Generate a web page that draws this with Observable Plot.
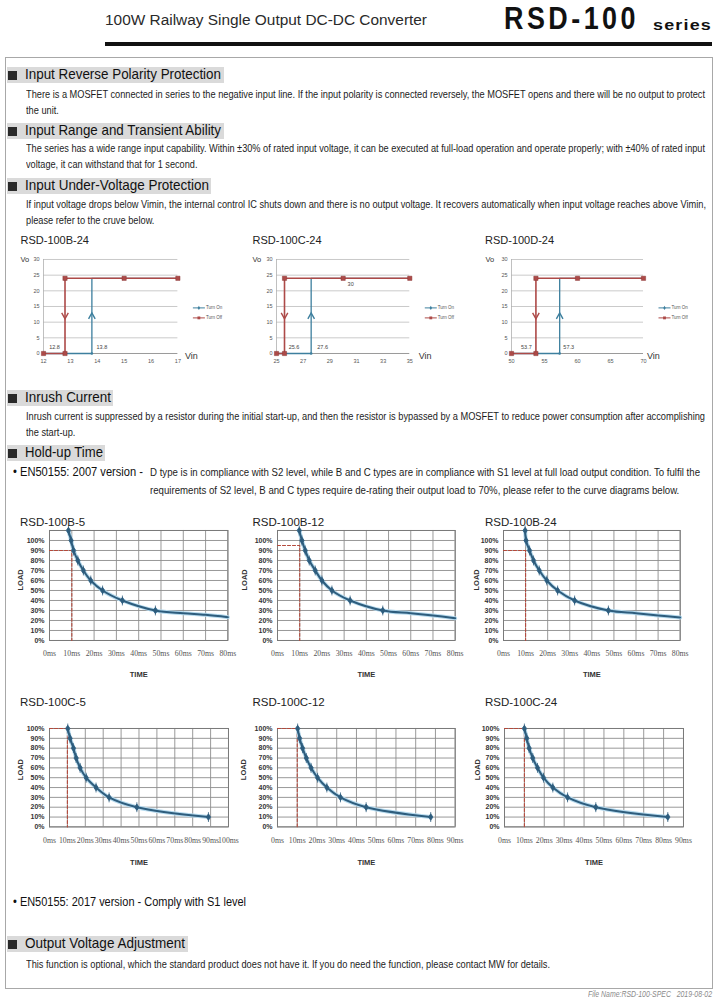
<!DOCTYPE html>
<html><head><meta charset="utf-8">
<script src="https://cdn.jsdelivr.net/npm/d3@7"></script>
<script src="https://cdn.jsdelivr.net/npm/@observablehq/plot@0.6"></script>
<style>
body{margin:0;background:#fff;}
#page{position:relative;width:715px;height:1000px;overflow:hidden;background:#fff;font-family:"Liberation Sans Narrow","Liberation Sans",Arial,sans-serif;color:#1c1c1c;}
.t{position:absolute;white-space:nowrap;line-height:1;transform-origin:0 50%;}
.box{position:absolute;}
.chart{position:absolute;}
.chart svg{overflow:visible;}
</style></head><body><div id="page"></div>
<script>
// ================= DATA =================
// Input under-voltage protection curves
const uvpTitles = ["RSD-100B-24", "RSD-100C-24", "RSD-100D-24"];
const uvpXTicks = [[12, 13, 14, 15, 16, 17], [25, 27, 29, 31, 33, 35], [50, 55, 60, 65, 70]];
const uvpYTicks = [0, 5, 10, 15, 20, 25, 30];
const turnOffVin = [[17, 15, 12.8, 12.8, 12], [35, 30, 25.6, 25.6, 25], [70, 60, 53.7, 53.7, 50]];
const turnOffVo = [24, 24, 24, 0, 0];
const turnOnVin = [[12, 13.8, 13.8, 17], [25, 27.6, 27.6, 35], [50, 57.3, 57.3, 70]];
const turnOnVo = [0, 0, 24, 24];
const turnOffVmin = [12.8, 25.6, 53.7];
const turnOnVmin = [13.8, 27.6, 57.3];
const noteVin = [null, 30, null];
const noteText = ["", "30", ""];
const arrowVo = 12;
const legendNames = ["Turn On", "Turn Off"];

// Hold-up time curves
const holdTitles = ["RSD-100B-5", "RSD-100B-12", "RSD-100B-24", "RSD-100C-5", "RSD-100C-12", "RSD-100C-24"];
const holdXTicks = [
  [0, 10, 20, 30, 40, 50, 60, 70, 80],
  [0, 10, 20, 30, 40, 50, 60, 70, 80],
  [0, 10, 20, 30, 40, 50, 60, 70, 80],
  [0, 10, 20, 30, 40, 50, 60, 70, 80, 90, 100],
  [0, 10, 20, 30, 40, 50, 60, 70, 80, 90],
  [0, 10, 20, 30, 40, 50, 60, 70, 80, 90]
];
const holdYTicks = [0, 10, 20, 30, 40, 50, 60, 70, 80, 90, 100];
const holdYGridB = [0, 10, 20, 30, 40, 50, 60, 70, 80, 90, 100, 110];
const holdYMax = [110, 110, 110, 100, 100, 100];
const holdTime = [
  [8.5, 9.7, 10.8, 12.7, 15.2, 18.5, 23.8, 32.7, 47.5],
  [9.8, 11, 12.5, 14.3, 17, 20, 24.5, 32.7, 47.4],
  [9.8, 10.2, 11.8, 13.6, 16.2, 19.6, 24.5, 32.2, 47.5],
  [10.2, 11.5, 13.4, 14.9, 17.1, 20.5, 26, 33.3, 48.8, 88.8],
  [10.2, 11.2, 12.7, 14.6, 17, 20.3, 25, 31.9, 44.9, 77.6],
  [10, 11.2, 12.4, 14.2, 16.6, 19.6, 24.3, 31.7, 45.9, 82.1]
];
const holdLoadB = [110, 100, 90, 80, 70, 60, 50, 40, 30];
const holdLoadC = [100, 90, 80, 70, 60, 50, 40, 30, 20, 10];
const holdLoad = [holdLoadB, holdLoadB, holdLoadB, holdLoadC, holdLoadC, holdLoadC];
const tailTime = [[60, 70, 80], [60, 70, 80], [60, 70, 80], [], [], []];
const tailLoad = [[27.3, 25.7, 23.3], [27.3, 25, 22.3], [27.3, 25, 23], [], [], []];
const guideLoad = [90, 95, 90, 100, 100, 100];
const guideTime = [10, 10, 10, 10, 10, 10];

// ================= STYLE / LAYOUT =================
const RED = "#ad4a48", BLUE = "#3d7f9e", CURVE = "#2e5d7d", HALO = "#b6daee", GUIDE = "#b5493b";
const page = document.getElementById("page");

function box(css) {
  const d = document.createElement("div");
  d.className = "box";
  Object.assign(d.style, css);
  page.appendChild(d);
  return d;
}
function txt(s, x, cy, fs, o = {}) {
  const d = document.createElement("div");
  d.className = "t";
  d.textContent = s;
  d.style.left = x + "px";
  d.style.top = (cy - fs * 0.55) + "px";
  d.style.fontSize = fs + "px";
  if (o.bold) d.style.fontWeight = "bold";
  if (o.color) d.style.color = o.color;
  if (o.family) d.style.fontFamily = o.family;
  if (o.italic) d.style.fontStyle = "italic";
  if (o.ls) d.style.letterSpacing = o.ls + "px";
  page.appendChild(d);
  const w0 = d.getBoundingClientRect().width;
  let k = o.k || (o.w ? o.w / w0 : 1);
  d.style.transform = `scaleX(${k})`;
  if (o.right != null) d.style.left = (o.right - w0 * k) + "px";
  return k;
}
function heading(s, cy, bandRight, textRight) {
  box({left: "7px", top: (cy - 8) + "px", width: (bandRight - 7) + "px", height: "16px", background: "#dadada"});
  box({left: "8px", top: (cy - 4.5) + "px", width: "9px", height: "9px", background: "#2a2a2a"});
  txt(s, 25, cy, 14.5, {w: textRight - 25, color: "#111"});
}
function para(lines, x, cys, fullW, fs = 10.5) {
  const k = txt(lines[0], x, cys[0], fs, {w: fullW});
  for (let i = 1; i < lines.length; i++) txt(lines[i], x, cys[i], fs, {k});
}

// ---------- header ----------
txt("100W Railway Single Output DC-DC Converter", 105, 21, 15.5, {w: 322, color: "#2a2a2a"});
txt("RSD-100", 504, 20, 31, {bold: true, w: 135, ls: 4, color: "#111"});
txt("series", 653, 25, 15, {bold: true, w: 59, ls: 1, color: "#111"});
box({left: "105px", top: "42px", width: "607px", height: "4px", background: "#111"});
box({left: "5px", top: "57px", width: "706px", height: "930px", border: "1px solid #a8a8a8"});

// ---------- sections ----------
heading("Input Reverse Polarity Protection", 75, 224, 221);
para(["There is a MOSFET connected in series to the negative input line. If the input polarity is connected reversely, the MOSFET opens and there will be no output to protect",
      "the unit."], 26, [95, 111], 679);
heading("Input Range and Transient Ability", 131, 224, 221);
para(["The series has a wide range input capability. Within \u00b130% of rated input voltage, it can be executed at full-load operation and operate properly; with  \u00b140% of rated input",
      "voltage, it can withstand that for 1 second."], 26, [149, 165], 679);
heading("Input Under-Voltage Protection", 186, 211, 209);
para(["If input voltage drops below Vimin, the internal control IC shuts down and there is no output voltage. It recovers automatically when input voltage reaches above Vimin,",
      "please refer to the cruve below."], 26, [205, 221], 680);
heading("Inrush Current", 398, 113, 111);
para(["Inrush current is suppressed by a resistor during the initial start-up, and then the resistor is bypassed by a MOSFET to reduce power consumption after accomplishing",
      "the start-up."], 26, [417, 433], 679);
heading("Hold-up Time", 453, 105, 103);
txt("\u2022  EN50155: 2007 version -", 13, 473, 12, {w: 130, color: "#111"});
para(["D type is in compliance with S2 level, while B and C types are in compliance with S1 level at full load output condition. To fulfil the",
      "requirements of S2 level, B and C types require de-rating their output load to 70%, please refer to the curve diagrams below."], 150, [473, 491], 550);
txt("\u2022  EN50155: 2017 version - Comply with S1 level", 13, 903, 12, {w: 233, color: "#111"});
heading("Output Voltage Adjustment", 944, 188, 185);
para(["This function is optional, which the standard product does not have it. If you do need the function, please contact MW for details."], 26, [965], 524);
txt("File Name:RSD-100-SPEC\u00a0\u00a0\u00a02019-08-02", 0, 995, 8.5, {italic: true, color: "#8a8a8a", w: 124, right: 712});

// ---------- symbols ----------
const chevDown = {draw(c, size) { const r = Math.sqrt(size / Math.PI); c.moveTo(-r, -r * 0.9); c.lineTo(0, r * 0.9); c.lineTo(r, -r * 0.9); }};
const chevUp = {draw(c, size) { const r = Math.sqrt(size / Math.PI); c.moveTo(-r, r * 0.9); c.lineTo(0, -r * 0.9); c.lineTo(r, r * 0.9); }};
const legLine = {draw(c) { c.moveTo(-6, 0); c.lineTo(6, 0); }};
const diamondTick = {draw(c, size) {
  const r = Math.sqrt(size / Math.PI);
  c.moveTo(0, -r * 1.25); c.lineTo(r * 0.85, 0); c.lineTo(0, r * 1.25); c.lineTo(-r * 0.85, 0); c.closePath();
  c.moveTo(0, -r * 1.9); c.lineTo(0, r * 1.9);
}};

function place(svg, left, top) {
  const d = document.createElement("div");
  d.className = "chart";
  d.style.left = left + "px";
  d.style.top = top + "px";
  d.appendChild(svg);
  page.appendChild(d);
}

// ---------- UVP charts ----------
const uvpFrames = [[43.3, 177.7], [276, 409.3], [510.7, 642.7]];
const uvpTitleX = [20.5, 252.5, 485];
const uvpY = [259.3, 353.3];
const uvpLab = [
  {off: -10.5, on: 10, vo: -23, vin: 7},
  {off: 9.5, on: 11.5, vo: -24, vin: 9},
  {off: -9.5, on: 9, vo: -26, vin: 3.5}
];
for (let i = 0; i < 3; i++) {
  const [x0, x1] = uvpFrames[i];
  const mL = 30, mR = 62, mT = 12, mB = 18;
  const off = turnOffVin[i].map((v, j) => ({vin: v, vo: turnOffVo[j]}));
  const on = turnOnVin[i].map((v, j) => ({vin: v, vo: turnOnVo[j]}));
  const xd = [uvpXTicks[i][0], uvpXTicks[i][uvpXTicks[i].length - 1]];
  const lab = uvpLab[i];
  const marks = [
    Plot.gridY(uvpYTicks.slice(1), {stroke: "#c4c4c4", strokeOpacity: 1, strokeWidth: 0.9}),
    Plot.ruleY([0], {stroke: "#9a9a9a", strokeWidth: 1}),
    Plot.ruleX([xd[0]], {stroke: "#b0b0b0", strokeWidth: 0.8}),
    Plot.axisX(uvpXTicks[i], {tickSize: 0, tickPadding: 6, fontSize: 5.5, fill: "#555", label: null}),
    Plot.axisY(uvpYTicks, {tickSize: 0, tickPadding: 4, fontSize: 5.5, fill: "#555", label: null}),
    Plot.line(on, {x: "vin", y: "vo", stroke: BLUE, strokeWidth: 1.3}),
    Plot.line(off, {x: "vin", y: "vo", stroke: RED, strokeWidth: 1.6}),
    Plot.dot(off, {x: "vin", y: "vo", symbol: "square", r: 2.4, fill: RED, stroke: "#8a3634", strokeWidth: 0.5}),
    Plot.dot([{vin: turnOnVmin[i], vo: 0}], {x: "vin", y: "vo", r: 1.3, fill: BLUE}),
    Plot.dot([{vin: turnOffVmin[i], vo: arrowVo}], {x: "vin", y: "vo", symbol: chevDown, r: 3.3, stroke: RED, strokeWidth: 1.4, fill: "none"}),
    Plot.dot([{vin: turnOnVmin[i], vo: arrowVo}], {x: "vin", y: "vo", symbol: chevUp, r: 3.3, stroke: BLUE, strokeWidth: 1.4, fill: "none"}),
    Plot.text([{vin: turnOffVmin[i], vo: 0, t: String(turnOffVmin[i])}], {x: "vin", y: "vo", text: "t", dx: lab.off, dy: -6, fontSize: 5.5, fill: "#444"}),
    Plot.text([{vin: turnOnVmin[i], vo: 0, t: String(turnOnVmin[i])}], {x: "vin", y: "vo", text: "t", dx: lab.on, dy: -6, fontSize: 5.5, fill: "#444"}),
    Plot.text(["Vo"], {frameAnchor: "top-left", dx: lab.vo, textAnchor: "start", lineAnchor: "middle", fontSize: 7.5, fill: "#333"}),
    Plot.text(["Vin"], {frameAnchor: "bottom-right", dx: lab.vin, dy: 2.5, textAnchor: "start", lineAnchor: "middle", fontSize: 9, fill: "#333"}),
    // legend
    Plot.dot([0], {frameAnchor: "right", dx: 21, dy: 1.4, symbol: legLine, stroke: BLUE, strokeWidth: 1}),
    Plot.dot([0], {frameAnchor: "right", dx: 21, dy: 1.4, symbol: "diamond", r: 1.3, fill: BLUE}),
    Plot.text([legendNames[0]], {frameAnchor: "right", dx: 28, dy: 1.4, textAnchor: "start", fontSize: 4.5, fill: "#555"}),
    Plot.dot([0], {frameAnchor: "right", dx: 21, dy: 11.4, symbol: legLine, stroke: RED, strokeWidth: 1}),
    Plot.dot([0], {frameAnchor: "right", dx: 21, dy: 11.4, symbol: "square", r: 1.6, fill: RED}),
    Plot.text([legendNames[1]], {frameAnchor: "right", dx: 28, dy: 11.4, textAnchor: "start", fontSize: 4.5, fill: "#555"})
  ];
  if (noteVin[i] != null) {
    marks.push(Plot.text([{vin: noteVin[i], vo: 24}], {x: "vin", y: "vo", text: () => noteText[i], dx: 7.5, dy: 6, fontSize: 5.5, fill: "#444"}));
  }
  const svg = Plot.plot({
    width: (x1 - x0) + mL + mR, height: (uvpY[1] - uvpY[0]) + mT + mB,
    marginLeft: mL, marginRight: mR, marginTop: mT, marginBottom: mB,
    style: {fontFamily: "Liberation Sans, Arial, sans-serif", background: "transparent", overflow: "visible"},
    x: {domain: xd},
    y: {domain: [0, 30]},
    marks
  });
  place(svg, x0 - mL, uvpY[0] - mT);
  txt(uvpTitles[i], uvpTitleX[i], 241, 11, {family: "Liberation Sans, Arial, sans-serif", color: "#222"});
}

// ---------- hold-up charts ----------
const holdFrames = [
  [49.3, 227.7, 530, 640], [277.3, 455, 530, 640], [503.3, 680, 530, 640],
  [49.3, 228.3, 728.3, 826.7], [277.3, 455, 728.3, 826.7], [504.3, 683.3, 728.3, 826.7]
];
const holdTitleX = [20, 252.5, 485, 20, 252.5, 485];
const holdTitleY = [523, 523, 523, 703, 703, 703];
const loadDx = [-29, -33, -26.5, -29, -34, -26.5];
for (let i = 0; i < 6; i++) {
  const [x0, x1, y0, y1] = holdFrames[i];
  const mL = 42, mR = 14, mT = 10, mB = 46;
  const row1 = i < 3;
  const pts = holdTime[i].map((t, j) => ({t, load: holdLoad[i][j]}));
  const curve = pts.concat(tailTime[i].map((t, j) => ({t, load: tailLoad[i][j]})));
  const xt = holdXTicks[i];
  const xmax = xt[xt.length - 1];
  const g = guideLoad[i], gt = guideTime[i];
  const guide = [{t: 0, load: g}, {t: gt, load: g}, {t: gt, load: 0}];
  const svg = Plot.plot({
    width: (x1 - x0) + mL + mR, height: (y1 - y0) + mT + mB,
    marginLeft: mL, marginRight: mR, marginTop: mT, marginBottom: mB,
    style: {fontFamily: "Liberation Sans, Arial, sans-serif", background: "transparent", overflow: "visible"},
    x: {domain: [0, xmax]},
    y: {domain: [0, holdYMax[i]]},
    marks: [
      Plot.gridX(xt, {stroke: "#8d8d8d", strokeOpacity: 1, strokeWidth: 0.9}),
      Plot.gridY(row1 ? holdYGridB : holdYTicks, {stroke: "#8d8d8d", strokeOpacity: 1, strokeWidth: 0.9}),
      Plot.frame({stroke: "#7a7a7a", strokeWidth: 1}),
      Plot.axisX(xt, {tickSize: 0, tickPadding: row1 ? 9.5 : 10.5, tickFormat: d => d + "ms", fontFamily: "Liberation Serif, Times New Roman, serif", fontSize: 7.8, fill: "#555", label: null}),
      Plot.axisY(holdYTicks, {tickSize: 0, tickPadding: 5, tickFormat: d => d + "%", fontSize: 7, fontWeight: "bold", fill: "#333", label: null}),
      Plot.line(guide, {x: "t", y: "load", stroke: GUIDE, strokeWidth: 1.1, strokeDasharray: "3,2"}),
      Plot.line(curve, {x: "t", y: "load", curve: "catmull-rom", stroke: HALO, strokeWidth: 4}),
      Plot.line(curve, {x: "t", y: "load", curve: "catmull-rom", stroke: CURVE, strokeWidth: 2}),
      Plot.dot(pts, {x: "t", y: "load", symbol: diamondTick, r: 2.6, fill: CURVE, stroke: CURVE, strokeWidth: 0.8}),
      Plot.text(["TIME"], {frameAnchor: "bottom", dy: row1 ? 34 : 36, lineAnchor: "middle", fontSize: 7.5, fontWeight: "bold", fill: "#333"}),
      Plot.text(["LOAD"], {frameAnchor: "left", dx: loadDx[i], dy: row1 ? 5 : 2.5, rotate: -90, fontSize: 7.5, fontWeight: "bold", fill: "#333"})
    ]
  });
  place(svg, x0 - mL, y0 - mT);
  txt(holdTitles[i], holdTitleX[i], holdTitleY[i], 11.5, {family: "Liberation Sans, Arial, sans-serif", color: "#222"});
}
</script></body></html>
